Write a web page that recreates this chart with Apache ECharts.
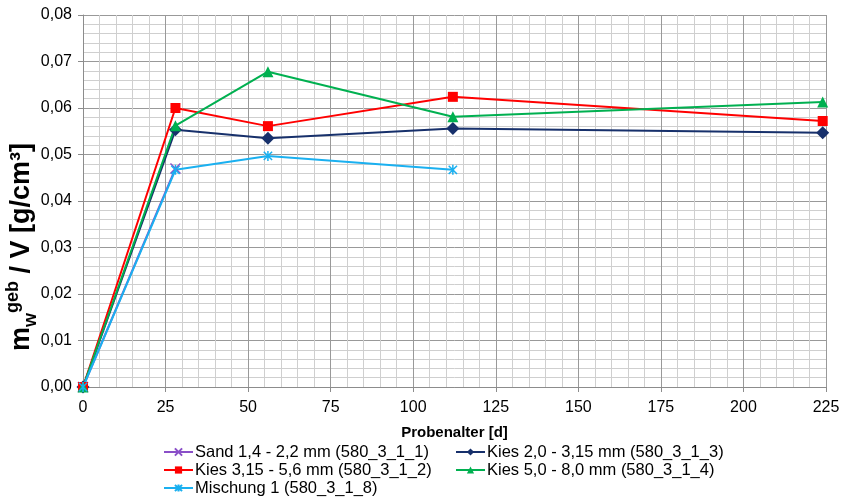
<!DOCTYPE html>
<html>
<head>
<meta charset="utf-8">
<script src="https://cdn.jsdelivr.net/npm/echarts@6/dist/echarts.min.js"></script>
<style>html,body{margin:0;padding:0;background:#fff}#c{width:844px;height:499px}</style>
</head>
<body>
<div id="c"></div>
<script>
// ---- data ----
const xTicks = [0, 25, 50, 75, 100, 125, 150, 175, 200, 225];
const yTicks = [0, 0.01, 0.02, 0.03, 0.04, 0.05, 0.06, 0.07, 0.08];
const names = [
  'Sand 1,4 - 2,2 mm (580_3_1_1)',
  'Kies 2,0 - 3,15 mm (580_3_1_3)',
  'Kies 3,15 - 5,6 mm (580_3_1_2)',
  'Kies 5,0 - 8,0 mm (580_3_1_4)',
  'Mischung 1 (580_3_1_8)'
];
const sandAge = [0, 28];
const sandVal = [0, 0.0470];
const kies2Age = [0, 28, 56, 112, 224];
const kies2Val = [0, 0.0553, 0.0535, 0.0556, 0.0547];
const kies3Age = [0, 28, 56, 112, 224];
const kies3Val = [0, 0.0600, 0.0561, 0.0624, 0.0572];
const kies5Age = [0, 28, 56, 112, 224];
const kies5Val = [0, 0.0562, 0.0678, 0.0581, 0.0613];
const mischAge = [0, 28, 56, 112];
const mischVal = [0, 0.0467, 0.0497, 0.0467];

const FONT = 'Liberation Sans, Arial, sans-serif';
const pair = (a, b) => a.map((x, i) => [x, b[i]]);

function mk(name, age, val, color, symbol, size, stroke) {
  const s = {
    name, type: 'line', data: pair(age, val),
    symbol, symbolSize: size, symbolKeepAspect: true,
    showSymbol: true,
    lineStyle: { color, width: 2 },
    itemStyle: { color },
    emphasis: { disabled: true },
    clip: false,
    z: 3
  };
  if (stroke) {
    s.itemStyle = { color: color, borderColor: color, borderWidth: 1.5 };
  }
  return s;
}

const legendCommon = {
  orient: 'vertical', top: 443, itemGap: 0, padding: 0, height: 60,
  itemWidth: 29, itemHeight: 9,
  textStyle: { fontSize: 16.5, lineHeight: 18, color: '#000', fontFamily: FONT, padding: [0, 0, 0, -3] },
  selectedMode: false
};

const chart = echarts.init(document.getElementById('c'), null, { renderer: 'canvas' });
chart.setOption({
  animation: false,
  backgroundColor: '#fff',
  textStyle: { fontFamily: FONT },
  grid: { left: 83, right: 18, top: 15, bottom: 112, containLabel: false },
  xAxis: {
    type: 'value', min: 0, max: 225, interval: 25,
    name: 'Probenalter [d]', nameLocation: 'middle', nameGap: 38,
    nameTextStyle: { fontSize: 15, fontWeight: 'bold', color: '#000', fontFamily: FONT },
    axisLine: { show: true, lineStyle: { color: '#8c8c8c', width: 1 } },
    axisTick: { show: true, length: 5, lineStyle: { color: '#8c8c8c' } },
    axisLabel: { fontSize: 16, color: '#000', margin: 13, fontFamily: FONT,
      formatter: v => xTicks.includes(v) ? String(v) : '' },
    splitLine: { show: true, lineStyle: { color: '#999999', width: 1 } },
    minorTick: { show: false, splitNumber: 5 },
    minorSplitLine: { show: true, lineStyle: { color: '#cfcfcf', width: 1 } }
  },
  yAxis: {
    type: 'value', min: 0, max: 0.08, interval: 0.01,
    axisLine: { show: true, lineStyle: { color: '#8c8c8c', width: 1 } },
    axisTick: { show: true, length: 5, lineStyle: { color: '#8c8c8c' } },
    axisLabel: { fontSize: 16, color: '#000', margin: 11, fontFamily: FONT,
      formatter: v => { const t = yTicks.find(y => Math.abs(y - v) < 1e-9); return t === undefined ? '' : t.toFixed(2).replace('.', ','); } },
    splitLine: { show: true, lineStyle: { color: '#999999', width: 1 } },
    minorTick: { show: false, splitNumber: 5 },
    minorSplitLine: { show: true, lineStyle: { color: '#cfcfcf', width: 1 } }
  },
  legend: [
    Object.assign({}, legendCommon, { left: 163, data: [names[0], names[2], names[4]] }),
    Object.assign({}, legendCommon, { left: 455, data: [names[1], names[3]] })
  ],
  graphic: [
    {
      type: 'text', x: 22, y: 247, rotation: Math.PI / 2,
      style: {
        text: '{m|m}{sub|w}{sup|geb}{m| / V [g/cm³]}',
        align: 'center', verticalAlign: 'middle',
        fill: '#000',
        rich: {
          m: { fontSize: 27, fontWeight: 'bold', fontFamily: FONT, lineHeight: 36, verticalAlign: 'middle' },
          sub: { fontSize: 18, fontWeight: 'bold', fontFamily: FONT, lineHeight: 15, verticalAlign: 'bottom' },
          sup: { fontSize: 18, fontWeight: 'bold', fontFamily: FONT, lineHeight: 15, verticalAlign: 'top' }
        }
      }
    }
  ],
  series: [
    mk(names[0], sandAge, sandVal, '#8a4fc8', 'path://M0,0 L10,10 M10,0 L0,10', 10, true),
    mk(names[1], kies2Age, kies2Val, '#17306b', 'diamond', 13, false),
    mk(names[2], kies3Age, kies3Val, '#ff0000', 'rect', 10, false),
    mk(names[3], kies5Age, kies5Val, '#00b050', 'triangle', 11, false),
    mk(names[4], mischAge, mischVal, '#1ab0f0', 'path://M0,0 L10,10 M10,0 L0,10 M5,-1 L5,11', 10, true)
  ]
});
</script>
</body>
</html>
